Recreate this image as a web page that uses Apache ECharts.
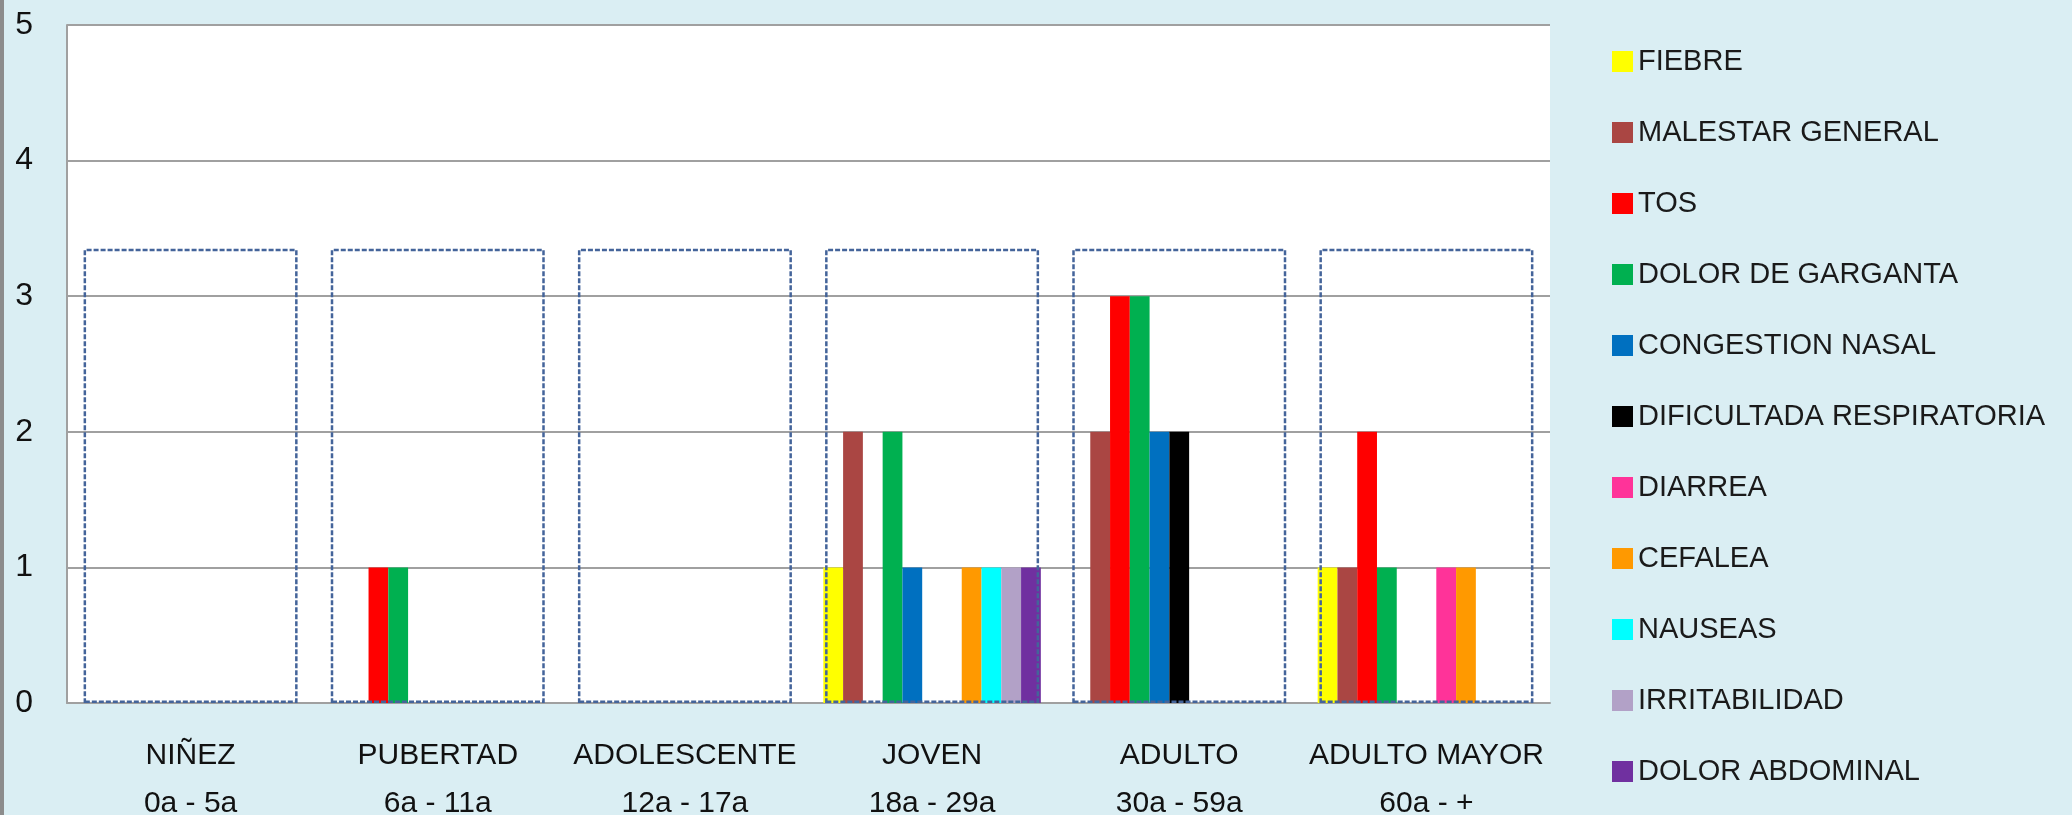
<!DOCTYPE html>
<html>
<head>
<meta charset="utf-8">
<script src="https://cdn.jsdelivr.net/npm/echarts@6/dist/echarts.min.js"></script>
<style>
  html, body { margin: 0; padding: 0; background: #daeef3; }
  #chart { width: 2072px; height: 815px; }
</style>
</head>
<body>
<div id="chart"></div>
<script>
// grupos de edad (eje x)
const categories = [
  'NIÑEZ\n0a - 5a',
  'PUBERTAD\n6a - 11a',
  'ADOLESCENTE\n12a - 17a',
  'JOVEN\n18a - 29a',
  'ADULTO\n30a - 59a',
  'ADULTO MAYOR\n60a - +'
]

// sintomas y sus colores
const symptoms = [
  'FIEBRE', 'MALESTAR GENERAL', 'TOS', 'DOLOR DE GARGANTA', 'CONGESTION NASAL',
  'DIFICULTADA RESPIRATORIA', 'DIARREA', 'CEFALEA', 'NAUSEAS', 'IRRITABILIDAD', 'DOLOR ABDOMINAL'
]
const colors = [
  '#ffff00', '#aa4643', '#ff0000', '#00b050', '#0070c0',
  '#000000', '#ff3399', '#ff9900', '#00ffff', '#b2a1c7', '#7030a0'
]

// casos por sintoma, en orden de categorias
const fiebre = [0, 0, 0, 1, 0, 1]
const malestar = [0, 0, 0, 2, 2, 1]
const tos = [0, 1, 0, 0, 3, 2]
const garganta = [0, 1, 0, 2, 3, 1]
const congestion = [0, 0, 0, 1, 2, 0]
const dificultad = [0, 0, 0, 0, 2, 0]
const diarrea = [0, 0, 0, 0, 0, 1]
const cefalea = [0, 0, 0, 1, 0, 1]
const nauseas = [0, 0, 0, 1, 0, 0]
const irritabilidad = [0, 0, 0, 1, 0, 0]
const abdominal = [0, 0, 0, 1, 0, 0]

const seriesValues = [fiebre, malestar, tos, garganta, congestion, dificultad,
  diarrea, cefalea, nauseas, irritabilidad, abdominal]

// altura del recuadro punteado de cada grupo
const frameTop = [3.35, 3.35, 3.35, 3.35, 3.35, 3.35]

// eje y
const yMin = 0
const yMax = 5
const yStep = 1

const FONT = "'Liberation Sans', Arial, sans-serif"

const chart = echarts.init(document.getElementById('chart'))

const barSeries = symptoms.map((name, i) => ({
  name: name,
  type: 'bar',
  xAxisIndex: 0,
  data: seriesValues[i],
  barGap: '0%',
  barCategoryGap: '12%',
  itemStyle: { color: colors[i] },
  emphasis: { disabled: true }
}))

// recuadros punteados
barSeries.push({
  name: 'marco',
  type: 'bar',
  xAxisIndex: 1,
  data: frameTop,
  barWidth: 214,
  z: 5,
  silent: true,
  itemStyle: {
    color: 'rgba(0,0,0,0)',
    borderColor: '#44649a',
    borderWidth: 2.5,
    borderType: [5, 2]
  }
})

const option = {
  backgroundColor: '#daeef3',
  animation: false,
  graphic: [
    { type: 'rect', shape: { x: 0, y: 0, width: 4, height: 815 }, style: { fill: '#8c8c8c' } }
  ],
  grid: {
    left: 67,
    top: 25,
    width: 1483,
    height: 678,
    outerBoundsMode: 'none',
    containLabel: false,
    show: true,
    backgroundColor: '#ffffff',
    borderWidth: 0
  },
  legend: {
    data: symptoms,
    orient: 'vertical',
    left: 1607,
    top: 42,
    icon: 'rect',
    itemWidth: 21,
    itemHeight: 21,
    itemGap: 42,
    textStyle: {
      fontFamily: FONT,
      fontSize: 29,
      color: '#1a1a1a'
    }
  },
  xAxis: [
    {
      type: 'category',
      data: categories,
      axisLine: { show: true, lineStyle: { color: '#a0a0a0', width: 2 } },
      axisTick: { show: false },
      axisLabel: {
        interval: 0,
        margin: 29,
        fontFamily: FONT,
        fontSize: 30,
        lineHeight: 48,
        color: '#111111'
      }
    },
    {
      type: 'category',
      data: categories,
      show: false
    }
  ],
  yAxis: {
    type: 'value',
    min: yMin,
    max: yMax,
    interval: yStep,
    axisLine: { show: true, lineStyle: { color: '#a0a0a0', width: 2 } },
    axisTick: { show: false },
    splitLine: { show: true, lineStyle: { color: '#a0a0a0', width: 2 } },
    axisLabel: {
      margin: 34,
      fontFamily: FONT,
      fontSize: 32,
      color: '#111111'
    }
  },
  series: barSeries
}

chart.setOption(option)
</script>
</body>
</html>
